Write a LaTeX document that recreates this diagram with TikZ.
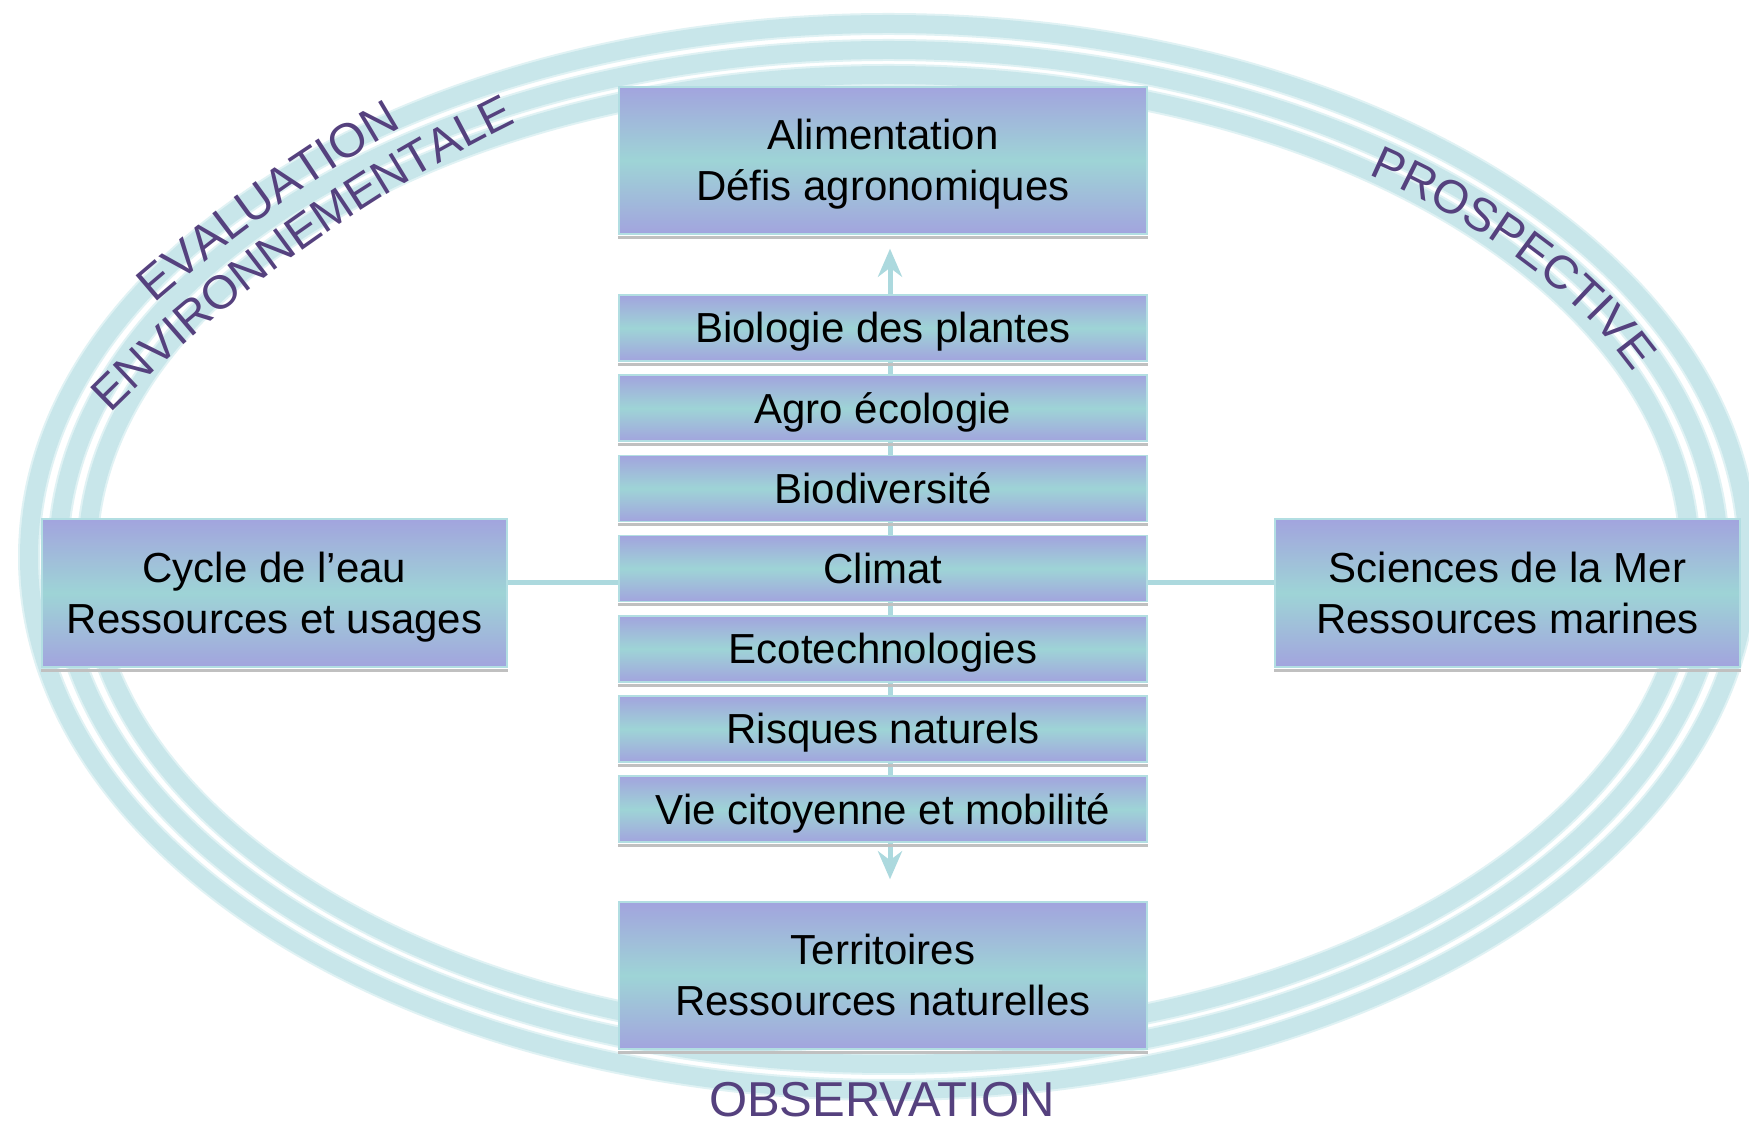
\documentclass[tikz,border=0pt]{standalone}
\usepackage{fontspec}
\setmainfont{Liberation Sans}
\usetikzlibrary{arrows.meta,decorations.text}
\definecolor{lav}{RGB}{162,164,222}
\definecolor{tealc}{RGB}{158,212,214}
\definecolor{ringc}{RGB}{200,230,234}
\definecolor{ringe}{RGB}{224,242,244}
\definecolor{connc}{RGB}{172,217,222}
\definecolor{boxline}{RGB}{178,222,226}
\definecolor{purp}{RGB}{85,65,126}
\definecolor{shadowc}{RGB}{192,192,192}
\begin{document}
\begin{tikzpicture}[x=1pt,y=1pt,
  mybox/.style={draw=boxline, line width=1.5pt, top color=lav, bottom color=lav, middle color=tealc,
    inner sep=0pt, align=center, font=\fontsize{42}{51}\selectfont, text=black},
  bigbox/.style={mybox, minimum width=528pt, minimum height=147pt, text height=81pt, text depth=0pt},
  smallbox/.style={mybox, minimum width=528pt, minimum height=66pt, text height=30pt, text depth=0pt},
  sidebox/.style={mybox, minimum width=465pt, minimum height=148pt, text height=81pt, text depth=0pt},
  ringline/.style={draw=ringc, line width=18pt},
  ringsoft/.style={draw=ringe, line width=22pt},
  conn/.style={draw=connc, line width=5pt},
  arrowconn/.style={conn, -{Stealth[length=28pt,width=24pt,inset=9pt]}},
  lbl/.style={text=purp, font=\fontsize{49}{49}\selectfont},
  shadowline/.style={draw=shadowc, line width=3pt}
]
\useasboundingbox (0,0) rectangle (1749,1122);
\clip (0,0) rectangle (1749,1122);
\fill[white] (0,0) rectangle (1749,1122);

% rings
\foreach \a/\b in {859.5/533, 830.5/507, 801.5/482}
  \draw[ringsoft] (888.5,565) ellipse [x radius=\a, y radius=\b];
\foreach \a/\b in {859.5/533, 830.5/507, 801.5/482}
  \draw[ringline] (888.5,565) ellipse [x radius=\a, y radius=\b];

% curved labels
\path[decorate, decoration={text along path, text align=center, text color=purp,
  text={|\fontsize{48}{48}\selectfont|EVALUATION}}]
  (1193,-375) ++(139.7:1582) arc[start angle=139.7, end angle=111.3, radius=1582];
\path[decorate, decoration={text along path, text align=center, text color=purp,
  text={|\fontsize{47}{47}\selectfont|ENVIRONNEMENTALE}}]
  (1193,-375) ++(139.8:1532) arc[start angle=139.8, end angle=111.4, radius=1532];
\path[decorate, decoration={text along path, text align=center, text color=purp,
  text={|\fontsize{47}{47}\selectfont|PROSPECTIVE}}]
  (888.5,565) ++(59:809 and 475) arc[start angle=59, end angle=15.4, x radius=809, y radius=475];
\node[lbl, anchor=base] (obs) at (882,5) {OBSERVATION};

% coordinates for connectors
\coordinate (hy) at (0,539);

% boxes
\node[bigbox] (alim) at (883,961.5) {Alimentation\\Défis agronomiques};
\node[bigbox] (terr) at (883,146.5) {Territoires\\Ressources naturelles};
\node[sidebox] (cyc) at (274.5,529) {Cycle de l’eau\\Ressources et usages};
\node[sidebox] (mer) at (1507.5,529) {Sciences de la Mer\\Ressources marines};

% vertical spine behind small boxes
\coordinate (spt) at (890,794);
\coordinate (spb) at (890,313);
\draw[conn] (spt) -- (spb);
% horizontal connectors
\draw[conn] (cyc.east |- hy) -- (mer.west |- hy);

\node[smallbox] (bio) at (883,794.0) {Biologie des plantes};
\node[smallbox] (agro) at (883,713.8) {Agro écologie};
\node[smallbox] (biod) at (883,633.6) {Biodiversité};
\node[smallbox] (clim) at (883,553.4) {Climat};
\node[smallbox] (eco) at (883,473.2) {Ecotechnologies};
\node[smallbox] (risq) at (883,393.0) {Risques naturels};
\node[smallbox] (vie) at (883,312.8) {Vie citoyenne et mobilité};

% arrows
\draw[arrowconn, shorten >=14pt] ([xshift=7pt]bio.north) -- ([xshift=7pt]alim.south);
\draw[arrowconn, shorten >=22pt] ([xshift=7pt]vie.south) -- ([xshift=7pt]terr.north);

% shadows under boxes
\foreach \n in {alim,terr,cyc,mer,bio,agro,biod,clim,eco,risq,vie}
  \draw[shadowline] ([yshift=-2.5pt]\n.south west) -- ([yshift=-2.5pt]\n.south east);
\end{tikzpicture}
\end{document}
